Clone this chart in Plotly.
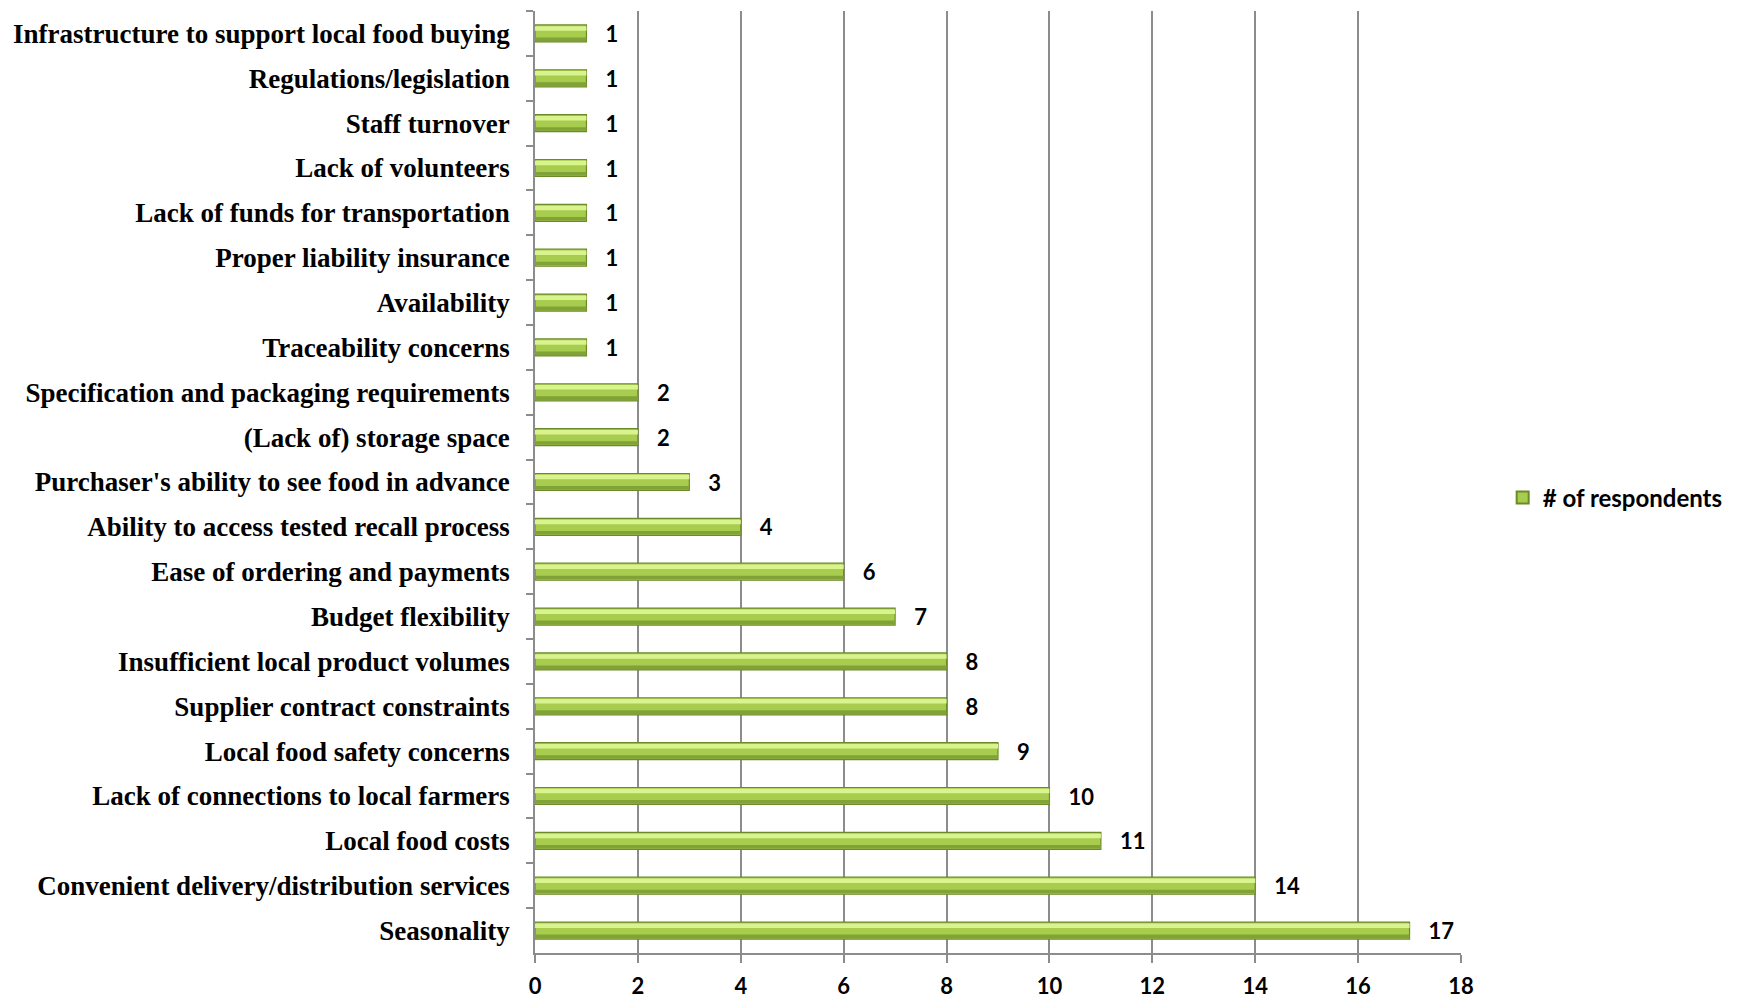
import plotly.graph_objects as go

categories = [
    "Infrastructure to support local food buying",
    "Regulations/legislation",
    "Staff turnover",
    "Lack of volunteers",
    "Lack of funds for transportation",
    "Proper liability insurance",
    "Availability",
    "Traceability concerns",
    "Specification and packaging requirements",
    "(Lack of) storage space",
    "Purchaser's ability to see food in advance",
    "Ability to access tested recall process",
    "Ease of ordering and payments",
    "Budget flexibility",
    "Insufficient local product volumes",
    "Supplier contract constraints",
    "Local food safety concerns",
    "Lack of connections to local farmers",
    "Local food costs",
    "Convenient delivery/distribution services",
    "Seasonality",
]
respondents = [1, 1, 1, 1, 1, 1, 1, 1, 2, 2, 3, 4, 6, 7, 8, 8, 9, 10, 11, 14, 17]
x_ticks = [0, 2, 4, 6, 8, 10, 12, 14, 16, 18]
series_name = "# of respondents"

fig = go.Figure()
fig.add_trace(go.Bar(
    y=categories, x=respondents, orientation="h", name=series_name,
    marker=dict(color="#a8cc4e", line=dict(color="#6b8a28", width=1.2)),
    width=0.38,
    text=respondents, texttemplate="   %{x}", textposition="outside",
    constraintext="none",
    textfont=dict(family="Lato", size=22, color="black", weight="bold"),
    cliponaxis=False,
))
# highlight and shade strips (same data) to imitate the bevelled gradient
fig.add_trace(go.Bar(
    y=categories, x=respondents, orientation="h", showlegend=False,
    marker=dict(color="#d9f38e", line=dict(width=0)),
    width=0.1, offset=-0.16, hoverinfo="skip",
))
fig.add_trace(go.Bar(
    y=categories, x=respondents, orientation="h", showlegend=False,
    marker=dict(color="#80a236", line=dict(width=0)),
    width=0.08, offset=0.09, hoverinfo="skip",
))

fig.update_layout(
    width=1743, height=1000,
    margin=dict(l=535, r=282, t=11, b=47),
    plot_bgcolor="white", paper_bgcolor="white",
    barmode="overlay",
    showlegend=True,
    legend=dict(x=1.045, y=0.483, xanchor="left", yanchor="middle",
                font=dict(family="Lato", size=24, color="black", weight="bold"),
                itemsizing="constant", itemwidth=30),
)
fig.update_xaxes(
    range=[0, 18], tickvals=x_ticks,
    showgrid=True, gridcolor="#8c8c8c", gridwidth=1.5,
    showline=True, linecolor="#8c8c8c", linewidth=1.5,
    ticks="outside", ticklen=8, tickcolor="#8c8c8c", tickwidth=1.5,
    tickfont=dict(family="Lato", size=22, color="black", weight="bold"),
    ticklabelstandoff=5, automargin=False,
    zeroline=False, mirror=False,
)
fig.update_yaxes(
    autorange="reversed", type="category",
    showline=True, linecolor="#8c8c8c", linewidth=1.5,
    ticks="outside", ticklen=7, tickcolor="#8c8c8c", tickwidth=1.5,
    tickson="boundaries", automargin=False,
    tickfont=dict(family="Liberation Serif", size=27, color="black", weight="bold"),
    ticklabelstandoff=18,
)

fig.write_html("out.html")
